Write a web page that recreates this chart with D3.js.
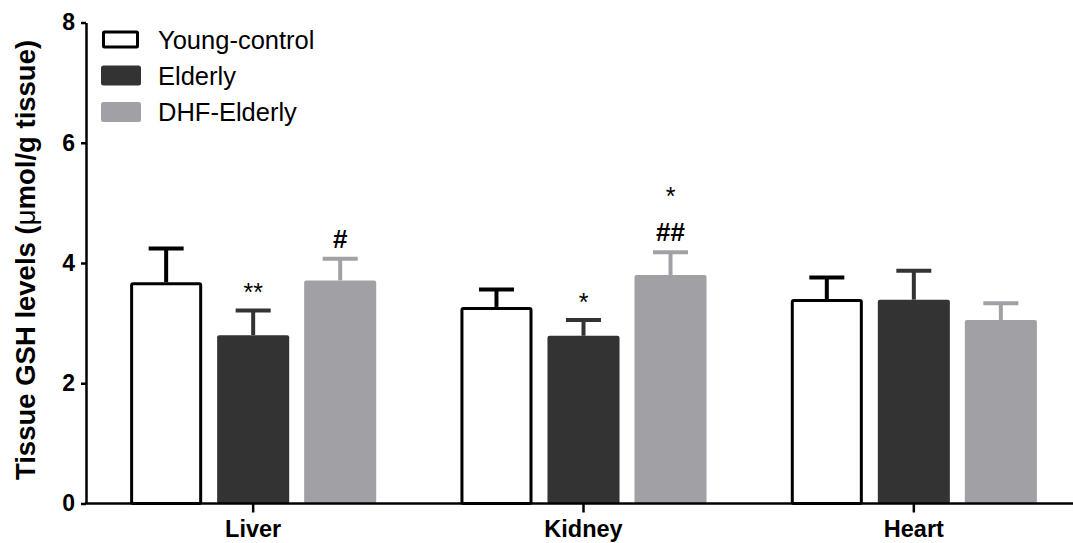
<!DOCTYPE html>
<html>
<head>
<meta charset="utf-8">
<script src="https://cdn.jsdelivr.net/npm/d3@7/dist/d3.min.js"></script>
<style>
  html, body { margin: 0; padding: 0; background: #fff; }
  svg { display: block; font-family: "Liberation Sans", Arial, sans-serif; }
</style>
</head>
<body>
<svg id="chart" width="1073" height="543"></svg>
<script>
// ---- data ----
const categories = ["Liver", "Kidney", "Heart"];
const seriesNames = ["Young-control", "Elderly", "DHF-Elderly"];
const youngValues = [3.68, 3.27, 3.40];
const youngErrors = [0.56, 0.29, 0.36];
const elderlyValues = [2.80, 2.79, 3.39];
const elderlyErrors = [0.41, 0.26, 0.48];
const dhfValues = [3.71, 3.80, 3.05];
const dhfErrors = [0.36, 0.38, 0.28];
// annotations per category, per series (bottom line first)
const annotations = [
  [[], ["**"], ["#"]],
  [[], ["*"], ["##", "*"]],
  [[], [], []]
];
const yTicks = [0, 2, 4, 6, 8];
const yTitle = "Tissue GSH levels (";
const yTitleMu = "\u03bc";
const yTitleEnd = "mol/g tissue)";

const seriesValues = [youngValues, elderlyValues, dhfValues];
const seriesErrors = [youngErrors, elderlyErrors, dhfErrors];
const fills = ["#ffffff", "#333333", "#a1a0a5"];
const strokes = ["#000000", "#333333", "#a1a0a5"];

const svg = d3.select("#chart");

const y = d3.scaleLinear().domain([0, 8]).range([503.5, 22.5]);
const x0 = d3.scaleBand().domain(categories).range([88, 1079]).padding(0);
const x1 = d3.scaleBand().domain(seriesNames).range([0, x0.bandwidth()])
  .paddingInner(0.172).paddingOuter(0.484);

const rows = [];
categories.forEach((c, ci) => {
  seriesNames.forEach((s, si) => {
    rows.push({cat: c, ci, s, si, v: seriesValues[si][ci], e: seriesErrors[si][ci],
               ann: annotations[ci][si]});
  });
});

// bars
const g = svg.append("g");
rows.forEach(d => {
  const bx = x0(d.cat) + x1(d.s);
  const bw = x1.bandwidth();
  const cx = bx + bw / 2;
  const col = strokes[d.si];
  // error bar
  g.append("line").attr("x1", cx).attr("x2", cx)
    .attr("y1", y(d.v)).attr("y2", y(d.v + d.e))
    .attr("stroke", col).attr("stroke-width", 4);
  g.append("line").attr("x1", cx - 17.5).attr("x2", cx + 17.5)
    .attr("y1", y(d.v + d.e)).attr("y2", y(d.v + d.e))
    .attr("stroke", col).attr("stroke-width", 4);
  if (d.si === 0) {
    g.append("rect").attr("x", bx + 1.5).attr("y", y(d.v) + 1.5)
      .attr("width", bw - 3).attr("height", y(0) - y(d.v) - 1.5)
      .attr("rx", 1.5)
      .attr("fill", "#fff").attr("stroke", "#000").attr("stroke-width", 3);
  } else {
    g.append("rect").attr("x", bx).attr("y", y(d.v))
      .attr("width", bw).attr("height", y(0) - y(d.v))
      .attr("rx", 2)
      .attr("fill", fills[d.si]);
  }
  // annotations
  d.ann.forEach((t, k) => {
    const isHash = t.indexOf("#") >= 0;
    g.append("text").attr("x", cx).attr("y", y(d.v + d.e) - (isHash ? 11 : 9) - k * 38)
      .attr("text-anchor", "middle")
      .attr("font-size", isHash ? 26 : 25)
      .attr("font-weight", isHash ? "bold" : "normal")
      .attr("fill", "#000")
      .text(t);
  });
});

// y axis
const yAxis = svg.append("g").attr("transform", "translate(86,0)")
  .call(d3.axisLeft(y).tickValues(yTicks).tickSize(5).tickSizeOuter(0).tickPadding(6));
yAxis.select(".domain").attr("stroke", "#000").attr("stroke-width", 2.5);
yAxis.selectAll(".tick line").attr("stroke", "#000").attr("stroke-width", 2.5);
yAxis.selectAll(".tick text").attr("font-size", 23).attr("font-weight", "bold")
  .attr("fill", "#000").attr("font-family", "Liberation Sans, Arial, sans-serif");

// x axis
const xAxis = svg.append("g").attr("transform", "translate(0,503.5)")
  .call(d3.axisBottom(x0).tickSize(9).tickSizeOuter(0).tickPadding(8));
xAxis.select(".domain").attr("stroke", "#000").attr("stroke-width", 2.5)
  .attr("d", "M84.75,0H1073");
xAxis.selectAll(".tick line").attr("stroke", "#000").attr("stroke-width", 2.5);
xAxis.selectAll(".tick text").attr("font-size", 23.5).attr("font-weight", "bold")
  .attr("fill", "#000").attr("font-family", "Liberation Sans, Arial, sans-serif");

// y title
const yt = svg.append("text").attr("transform", "translate(35,260) rotate(-90)")
  .attr("text-anchor", "middle").attr("font-size", 27.5).attr("font-weight", "bold")
  .attr("fill", "#000");
yt.append("tspan").text(yTitle);
yt.append("tspan").attr("font-weight", "normal").text(yTitleMu);
yt.append("tspan").text(yTitleEnd);

// legend
const legendY = [39.5, 75.5, 112];
seriesNames.forEach((s, i) => {
  const lg = svg.append("g").attr("transform", `translate(101,${legendY[i]})`);
  if (i === 0) {
    lg.append("rect").attr("x", 2.5).attr("y", -7.5).attr("width", 34).attr("height", 15)
      .attr("fill", "#fff").attr("stroke", "#000").attr("stroke-width", 3).attr("rx", 1);
  } else {
    lg.append("rect").attr("x", 0).attr("y", -10).attr("width", 40).attr("height", 20)
      .attr("rx", 2.5).attr("fill", fills[i]);
  }
  lg.append("text").attr("x", 57).attr("y", 9).attr("font-size", 25.5)
    .attr("fill", "#000").text(s);
});
</script>
</body>
</html>
